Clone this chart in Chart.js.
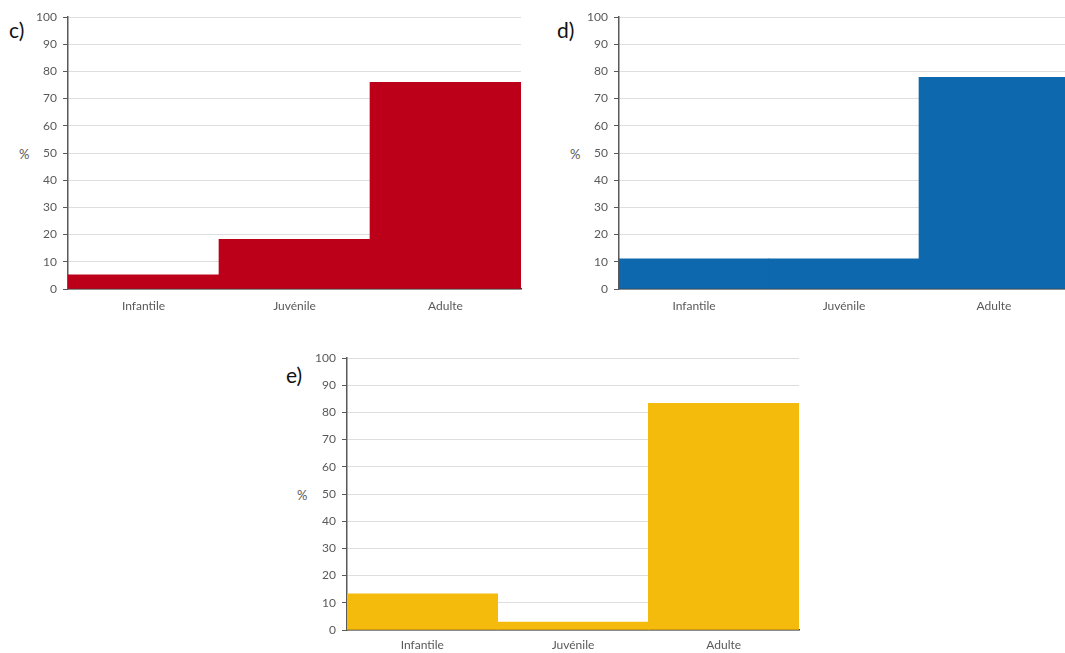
<!DOCTYPE html>
<html>
<head>
<meta charset="utf-8">
<script src="https://cdn.jsdelivr.net/npm/chart.js@4/dist/chart.umd.min.js"></script>
<style>
  html, body { margin: 0; padding: 0; background: #fff; overflow: hidden; width: 1065px; height: 653px; }
  body { position: relative; font-family: Lato, "Open Sans", sans-serif; }
  canvas { position: absolute; }
  .panel { position: absolute; font-size: 21px; color: #111; line-height: 1; }
  .unit { position: absolute; font-size: 13px; color: #595959; line-height: 1; }
</style>
</head>
<body>
<div class="panel" style="left:9px; top:19px;">c)</div>
<div class="panel" style="left:557px; top:19px;">d)</div>
<div class="panel" style="left:286px; top:364px;">e)</div>
<div class="unit" style="left:19px; top:148px;">%</div>
<div class="unit" style="left:570px; top:148px;">%</div>
<div class="unit" style="left:297px; top:489px;">%</div>

<canvas id="chartC" width="545" height="325" style="left:0px; top:0px;"></canvas>
<canvas id="chartD" width="530" height="325" style="left:551px; top:0px;"></canvas>
<canvas id="chartE" width="545" height="313" style="left:279px; top:340px;"></canvas>

<script>
// categories and values (%)
var categories = ["Infantile", "Juvénile", "Adulte"];
var valuesC = [5.2, 18.3, 76.0];
var valuesD = [11.1, 11.1, 77.8];
var valuesE = [13.3, 2.9, 83.3];
var yMin = 0, yMax = 100, yStep = 10;

function makeChart(id, values, color, pad, xHeight, labelPad) {
    new Chart(document.getElementById(id), {
        type: 'bar',
        data: {
            labels: categories,
            datasets: [{
                data: values,
                backgroundColor: color,
                borderWidth: 0,
                barPercentage: 1,
                categoryPercentage: 1
            }]
        },
        options: {
            responsive: false,
            animation: false,
            layout: { padding: pad },
            plugins: { legend: { display: false }, tooltip: { enabled: false } },
            scales: {
                x: {
                    z: 1,
                    grid: { display: false, drawTicks: false },
                    border: { display: true, color: '#3a3a3a', width: 1.5 },
                    ticks: { color: '#595959', font: { family: 'Lato', size: 12 }, padding: labelPad },
                    afterFit: function (s) { s.height = xHeight; }
                },
                y: {
                    min: yMin, max: yMax,
                    grid: { color: '#dedede', lineWidth: 1, tickLength: 5, tickColor: '#595959' },
                    border: { display: true, color: '#595959', width: 1.5 },
                    ticks: { stepSize: yStep, color: '#595959', font: { family: 'Lato', size: 12 }, padding: 6 },
                    afterFit: function (s) { s.width = 68; }
                }
            }
        }
    });
}

makeChart('chartC', valuesC, '#BD0019', { top: 17, right: 24, left: 0, bottom: 0 }, 36, 10);
makeChart('chartD', valuesD, '#0E68AE', { top: 17, right: 12, left: 0, bottom: 0 }, 36, 10);
makeChart('chartE', valuesE, '#F4BA0C', { top: 18, right: 25, left: 0, bottom: 0 }, 23, 8);
</script>
</body>
</html>
